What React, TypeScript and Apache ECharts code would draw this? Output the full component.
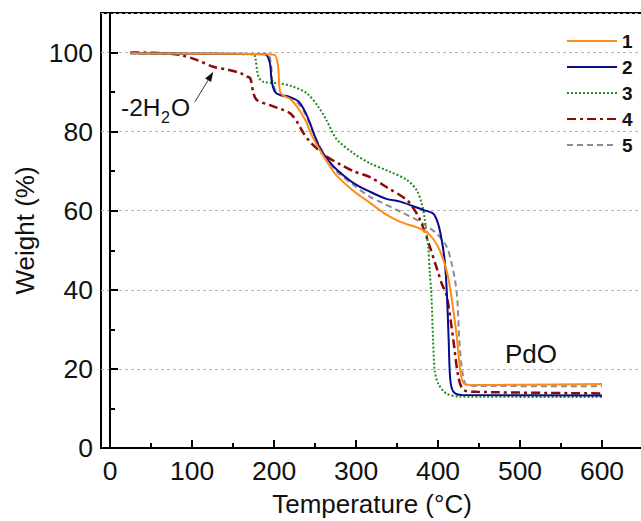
import React, { useEffect, useRef } from "react";
import * as echarts from "echarts";

const seriesNames = ["1", "2", "3", "4", "5"];
const seriesColors = ["#FF8C1A", "#0A0A8C", "#1E8C1E", "#8B0A0A", "#8C8C8C"];

const t1 = [25, 100, 190, 201, 205, 207, 210, 220, 228, 238, 246, 254, 265, 276, 297, 317, 337, 354, 378, 390, 400, 408, 413, 417, 423, 427, 431, 436, 443, 500, 600];
const w1 = [99.8, 99.7, 99.6, 99.4, 96.4, 90.5, 89.3, 88.2, 86.3, 83, 79.1, 76, 72.3, 69, 65, 62, 59, 57.2, 55.5, 53.9, 50.9, 46.7, 42.5, 37.4, 28, 19.7, 16.4, 16.0, 15.9, 16.0, 16.2];

const t2 = [25, 100, 189, 195, 197, 201, 207, 219, 230, 238, 244, 250, 256, 266, 276, 297, 317, 337, 354, 382, 394, 400, 404.5, 408.5, 411, 413, 415, 419, 429, 600];
const w2 = [99.8, 99.7, 99.6, 97.3, 93, 90.1, 89.3, 88.8, 87.6, 85, 82.1, 78.7, 75.8, 72.8, 70.5, 67, 64.8, 63, 62.3, 60.2, 59.3, 56.8, 52.6, 46.7, 38.3, 27.3, 17.2, 14.2, 13.4, 13.3];

const t3 = [25, 100, 175, 177, 181, 187, 207, 223, 240, 254, 264, 276, 297, 317, 340, 362, 374, 380, 384, 388, 390, 392, 394, 396, 400, 410, 427, 600];
const w3 = [99.8, 99.7, 99.5, 98.9, 93.9, 92.6, 92.2, 91.4, 89.7, 86.3, 82.9, 78.2, 74.5, 72, 70, 67.8, 65.2, 61.9, 57.6, 50.9, 44.2, 38.5, 27.3, 19.7, 16.4, 13.8, 13, 12.9];

const t4 = [25, 60, 85, 105, 126, 145, 159, 166, 171, 175, 179, 195, 211, 220, 228, 236, 244, 252, 264, 280, 297, 317, 337, 362, 374, 380, 390, 398, 404.5, 410.6, 418.7, 424.8, 431, 447, 600];
const w4 = [100, 99.9, 99.4, 98.2, 96.4, 95.6, 94.8, 94, 93.5, 89.7, 88, 86.7, 85.5, 84.6, 82.5, 79.6, 77.4, 75.8, 73.7, 71.8, 70, 68.5, 66, 62.7, 59.3, 56.8, 50.9, 45.8, 41.6, 38.5, 27.3, 18, 14.7, 14.2, 13.8];

const t5 = [25, 100, 192, 196, 198, 202, 208, 220, 230, 238, 246, 254, 265, 276, 297, 317, 329, 354, 378, 398, 410.6, 416.6, 420.7, 423.6, 426, 430, 435, 450, 600];
const w5 = [99.8, 99.7, 99.6, 97.5, 93, 90.3, 89.2, 88.5, 87, 84.5, 80.8, 77, 73.2, 70, 66.5, 63.5, 62.3, 59.8, 57.2, 54.3, 50.9, 46.7, 42.5, 37.4, 27.3, 18.9, 15.9, 15.7, 15.6];

const temps = [t1, t2, t3, t4, t5];
const weights = [w1, w2, w3, w4, w5];
const lineTypes: any[] = ["solid", "solid", [2, 2], [9, 4, 3, 4], [6, 4]];

const xMajorTicks = [0, 100, 200, 300, 400, 500, 600];
const xMinorTicks = [50, 150, 250, 350, 450, 550];
const yMinorTicks = [10, 30, 50, 70, 90];

const FONT = "Liberation Sans, Arial, Helvetica, sans-serif";

export default function App() {
  const ref = useRef<HTMLDivElement>(null);
  useEffect(() => {
    document.body.style.margin = "0";
    const chart = echarts.init(ref.current!, null, { renderer: "svg" });
    const series = seriesNames.map((name, i) => ({
      name,
      type: "line",
      xAxisIndex: 0,
      yAxisIndex: 0,
      symbol: "none",
      smooth: 0.3,
      data: temps[i].map((t, k) => [t, weights[i][k]]),
      lineStyle: { color: seriesColors[i], width: i === 3 ? 2.5 : 2, type: lineTypes[i] },
      itemStyle: { color: seriesColors[i] },
      z: 10 - i,
    }));
    // arrow geometry
    const tail = [195, 101.7];
    const tip = [213.3, 71.7];
    const dx = tip[0] - tail[0];
    const dy = tip[1] - tail[1];
    const len = Math.sqrt(dx * dx + dy * dy);
    const ux = dx / len;
    const uy = dy / len;
    const hl = 10;
    const hw = 3.5;
    const bx = tip[0] - ux * hl;
    const by = tip[1] - uy * hl;
    chart.setOption({
      animation: false,
      backgroundColor: "#fff",
      textStyle: { fontFamily: FONT },
      grid: {
        left: 101,
        right: -2,
        top: 13,
        bottom: 73,
        containLabel: false,
        outerBoundsMode: "none",
        show: true,
        borderColor: "#000",
        borderWidth: 2,
      },
      legend: {
        orient: "vertical",
        left: 561,
        top: 26,
        itemWidth: 50,
        itemHeight: 20,
        itemGap: 6,
        itemStyle: { opacity: 0 },
        data: seriesNames,
        textStyle: { fontSize: 19, fontWeight: "bold", color: "#111", fontFamily: FONT, lineHeight: 20 },
      },
      xAxis: [
        {
          type: "value",
          min: -11,
          max: 650,
          position: "bottom",
          axisLine: { show: true, lineStyle: { color: "#000", width: 2 } },
          axisTick: { show: true, inside: true, length: 8, customValues: xMajorTicks, lineStyle: { color: "#000", width: 2 } },
          axisLabel: { customValues: xMajorTicks, fontSize: 26.5, color: "#111", margin: 9, fontFamily: FONT },
          splitLine: { show: false },
          name: "Temperature (°C)",
          nameLocation: "middle",
          nameGap: 43,
          nameTextStyle: { fontSize: 26, color: "#111", fontFamily: FONT },
        },
        {
          type: "value",
          min: -11,
          max: 650,
          position: "bottom",
          axisLine: { show: false },
          axisTick: { show: true, inside: true, length: 5, customValues: xMinorTicks, lineStyle: { color: "#000", width: 2 } },
          axisLabel: { show: false },
          splitLine: { show: false },
        },
      ],
      yAxis: [
        {
          type: "value",
          min: 0,
          max: 110,
          interval: 20,
          position: "left",
          axisLine: { show: true, lineStyle: { color: "#000", width: 2 } },
          axisTick: { show: true, inside: true, length: 8, lineStyle: { color: "#000", width: 2 } },
          axisLabel: { fontSize: 26.5, color: "#111", margin: 8, showMaxLabel: false, fontFamily: FONT },
          splitLine: { show: true, lineStyle: { color: "#b4b4b4", width: 1, type: [3, 3] } },
          name: "Weight (%)",
          nameLocation: "middle",
          nameGap: 58,
          nameTextStyle: { fontSize: 26, color: "#111", fontFamily: FONT },
        },
        {
          type: "value",
          min: 0,
          max: 110,
          position: "left",
          axisLine: { show: false },
          axisTick: { show: true, inside: true, length: 5, customValues: yMinorTicks, lineStyle: { color: "#000", width: 2 } },
          axisLabel: { show: false },
          splitLine: { show: false },
        },
      ],
      graphic: [
        { type: "text", x: 121, y: 107, style: { text: "-2H", fontSize: 24.5, fontFamily: FONT, fill: "#111", align: "left", verticalAlign: "middle", textAlign: "left", textVerticalAlign: "middle" } },
        { type: "text", x: 161, y: 117, style: { text: "2", fontSize: 16, fontFamily: FONT, fill: "#111", align: "left", verticalAlign: "middle", textAlign: "left", textVerticalAlign: "middle" } },
        { type: "text", x: 171, y: 107, style: { text: "O", fontSize: 24.5, fontFamily: FONT, fill: "#111", align: "left", verticalAlign: "middle", textAlign: "left", textVerticalAlign: "middle" } },
        { type: "line", shape: { x1: tail[0], y1: tail[1], x2: bx, y2: by }, style: { stroke: "#333", lineWidth: 1 } },
        {
          type: "polygon",
          shape: { points: [tip, [bx - uy * hw, by + ux * hw], [bx + uy * hw, by - ux * hw]] },
          style: { fill: "#111" },
        },
        { type: "text", x: 531, y: 354, style: { text: "PdO", fontSize: 26, fontFamily: FONT, fill: "#111", align: "center", verticalAlign: "middle", textAlign: "center", textVerticalAlign: "middle" } },
      ],
      series,
    } as any);
    return () => chart.dispose();
  }, []);
  return <div ref={ref} style={{ position: "absolute", left: 0, top: 0, width: 641, height: 521 }} />;
}
